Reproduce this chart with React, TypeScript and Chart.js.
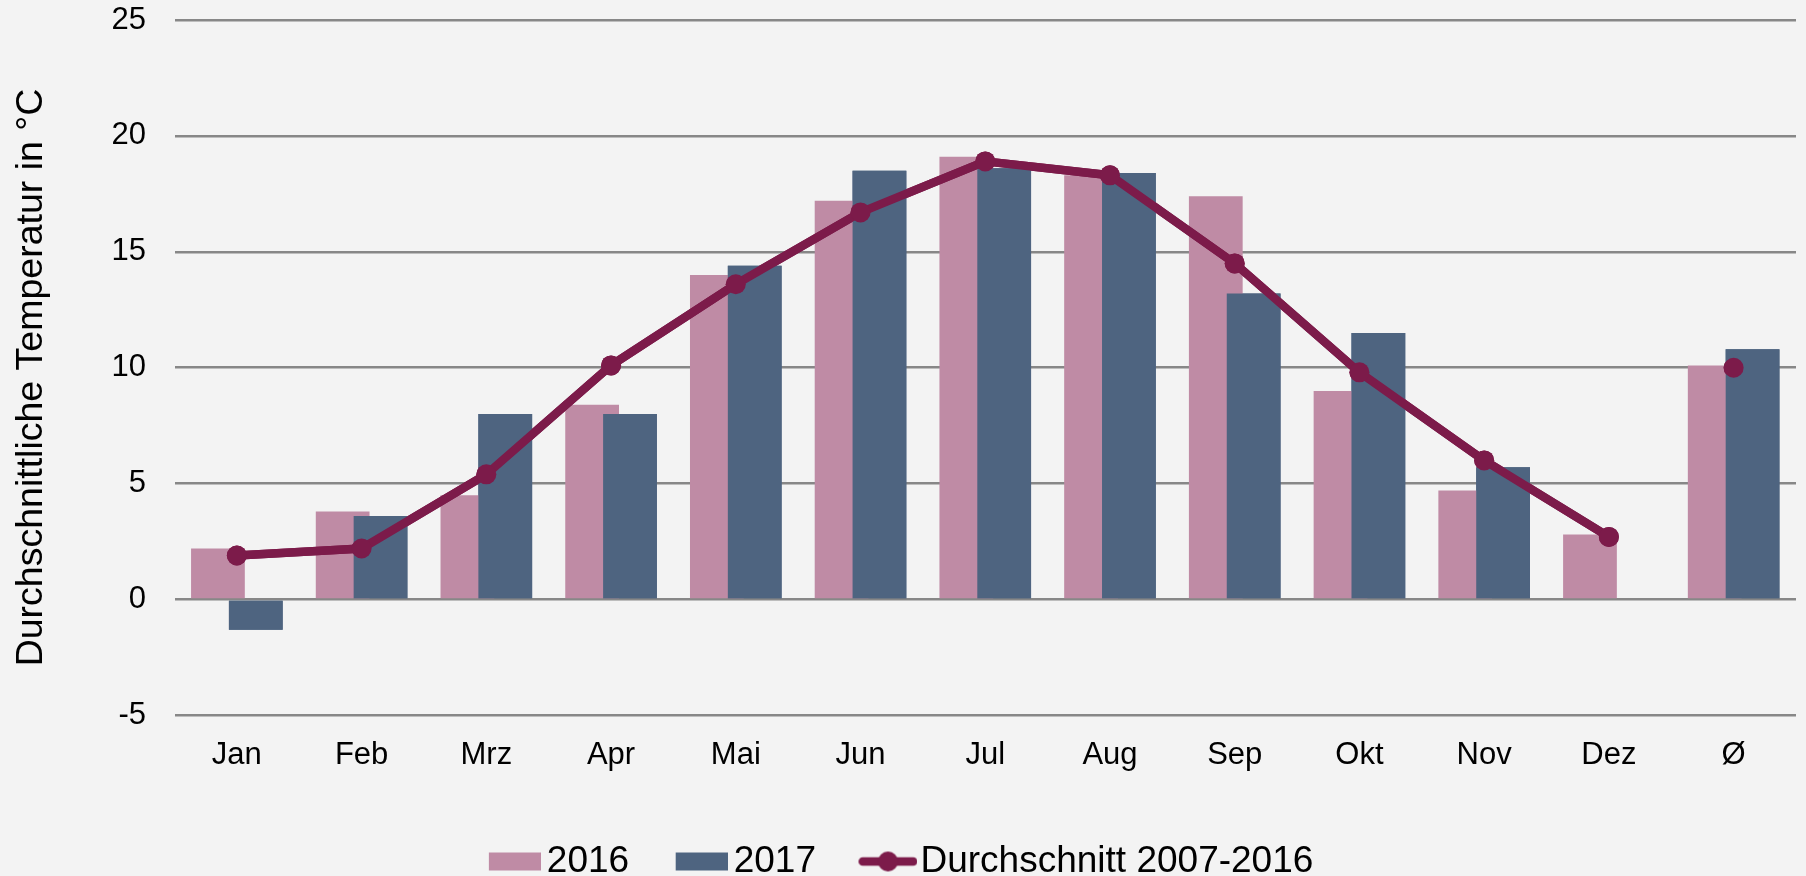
import React, { useEffect, useRef } from 'react';
import { Chart, registerables } from 'chart.js';

Chart.register(...registerables);

// ---- data ----
const categories = ['Jan', 'Feb', 'Mrz', 'Apr', 'Mai', 'Jun', 'Jul', 'Aug', 'Sep', 'Okt', 'Nov', 'Dez', 'Ø'];
const temp2016 = [2.2, 3.8, 4.5, 8.4, 14.0, 17.2, 19.1, 18.3, 17.4, 9.0, 4.7, 2.8, 10.1];
const temp2017 = [-1.3, 3.6, 8.0, 8.0, 14.4, 18.5, 18.6, 18.4, 13.2, 11.5, 5.7, null, 10.8];
const avg2007to2016 = [1.9, 2.2, 5.4, 10.1, 13.6, 16.7, 18.9, 18.3, 14.5, 9.8, 6.0, 2.7, 10.0];
const seriesLabels = ['2016', '2017', 'Durchschnitt 2007-2016'];
const yMin = -5;
const yMax = 25;
const yStep = 5;
const yTitle = 'Durchschnittliche Temperatur in °C';

// ---- styles ----
const PINK = '#BF8BA5';
const BLUE = '#4E6480';
const WINE = '#7C1B4A';
const BG = '#F3F3F3';
const GRID = '#878787';
const FONT = "'Liberation Sans', Arial, Helvetica, sans-serif";

const LEGEND_FONT = 37;
const POINT_W = 40;
const LINE_W = 8.5;

function makeSymbol(kind: 'box' | 'line', color: string): HTMLCanvasElement {
  const half = LEGEND_FONT / 2;
  const gap = kind === 'line' ? 3 : 6;
  const S = kind === 'line' ? 59 : 52;
  const right = POINT_W + half - gap;
  const w = 2 * (right - POINT_W / 2);
  const h = 22;
  const c = document.createElement('canvas');
  c.width = w;
  c.height = h;
  const g = c.getContext('2d')!;
  const start = right - S - (POINT_W / 2 - w / 2);
  if (kind === 'box') {
    g.fillStyle = color;
    g.fillRect(start, (h - 18) / 2, S, 18);
  } else {
    g.strokeStyle = color;
    g.lineWidth = LINE_W;
    g.lineCap = 'round';
    g.beginPath();
    g.moveTo(start + LINE_W / 2, h / 2);
    g.lineTo(start + S - LINE_W / 2, h / 2);
    g.stroke();
    g.fillStyle = color;
    g.beginPath();
    g.arc(start + S / 2, h / 2, 10, 0, Math.PI * 2);
    g.fill();
  }
  return c;
}

export default function App() {
  const ref = useRef<HTMLCanvasElement>(null);

  useEffect(() => {
    document.body.style.margin = '0';
    document.body.style.background = BG;
    document.body.style.overflow = 'hidden';
    const canvas = ref.current!;
    const symbols = [makeSymbol('box', PINK), makeSymbol('box', BLUE), makeSymbol('line', WINE)];
    const colors = [PINK, BLUE, WINE];

    const bgPlugin = {
      id: 'bgFill',
      beforeDraw(chart: any) {
        const c = chart.ctx;
        c.save();
        c.fillStyle = BG;
        c.fillRect(0, 0, chart.width, chart.height);
        c.restore();
      },
    };

    // 2017 bars sit on top of the overlapping 2016 bars, the line on top of both
    const layerPlugin = {
      id: 'layerOrder',
      afterDatasetsDraw(chart: any) {
        const c = chart.ctx;
        c.save();
        chart.getDatasetMeta(1).controller.draw();
        chart.getDatasetMeta(2).controller.draw();
        c.restore();
      },
    };

    const titlePlugin = {
      id: 'yTitle',
      afterDraw(chart: any) {
        const c = chart.ctx;
        c.save();
        c.translate(31.5, 377.5);
        c.rotate(-Math.PI / 2);
        c.font = `37.5px ${FONT}`;
        c.fillStyle = '#000';
        c.textAlign = 'center';
        c.textBaseline = 'middle';
        c.fillText(yTitle, 0, 0);
        c.restore();
      },
    };

    const chart = new Chart(canvas, {
      type: 'bar',
      data: {
        labels: categories,
        datasets: [
          {
            type: 'bar',
            label: seriesLabels[0],
            data: temp2016,
            backgroundColor: PINK,
            borderWidth: 0,
            order: 1,
            categoryPercentage: 0.607,
            barPercentage: 1.42,
          },
          {
            type: 'bar',
            label: seriesLabels[1],
            data: temp2017,
            backgroundColor: BLUE,
            borderWidth: 0,
            order: 1,
            categoryPercentage: 0.607,
            barPercentage: 1.42,
          },
          {
            type: 'line',
            label: seriesLabels[2],
            data: avg2007to2016,
            borderColor: WINE,
            backgroundColor: WINE,
            borderWidth: LINE_W,
            borderJoinStyle: 'round',
            pointRadius: 10,
            pointBorderWidth: 0,
            pointBackgroundColor: WINE,
            tension: 0,
            order: 0,
            segment: {
              borderColor: (ctx: any) => (ctx.p1DataIndex === categories.length - 1 ? 'rgba(0,0,0,0)' : WINE),
            },
          },
        ] as any,
      },
      options: {
        responsive: false,
        animation: false,
        devicePixelRatio: 1,
        events: [],
        layout: { padding: { left: 0, right: 4.3, top: 20, bottom: -14 } },
        scales: {
          x: {
            type: 'category',
            offset: true,
            grid: { display: false, drawTicks: false },
            border: { display: false },
            ticks: { color: '#000', font: { family: FONT, size: 31 }, padding: 21.5, maxRotation: 0, autoSkip: false },
            afterFit: (s: any) => {
              s.height = 81.6;
            },
          },
          y: {
            type: 'linear',
            min: yMin,
            max: yMax,
            grid: { color: GRID, lineWidth: 2.5, drawTicks: false },
            border: { display: false },
            ticks: { stepSize: yStep, color: '#000', font: { family: FONT, size: 31 }, padding: 28.5 },
            afterFit: (s: any) => {
              s.width = 174.5;
              s.paddingTop = 18;
              s.paddingBottom = 18;
            },
          },
        } as any,
        plugins: {
          tooltip: { enabled: false },
          legend: {
            position: 'bottom',
            align: 'center',
            labels: {
              usePointStyle: true,
              pointStyleWidth: POINT_W,
              padding: 46,
              color: '#000',
              font: { family: FONT, size: LEGEND_FONT },
              generateLabels: () =>
                seriesLabels.map((text, i) => ({
                  text,
                  datasetIndex: i,
                  pointStyle: symbols[i] as any,
                  fillStyle: colors[i],
                  strokeStyle: colors[i],
                  lineWidth: 0,
                  hidden: false,
                  fontColor: '#000',
                })),
            },
          },
        },
      } as any,
      plugins: [bgPlugin, layerPlugin, titlePlugin],
    });

    return () => chart.destroy();
  }, []);

  return (
    <div style={{ width: 1806, height: 876, background: BG }}>
      <canvas ref={ref} width={1806} height={876} style={{ display: 'block' }} />
    </div>
  );
}
